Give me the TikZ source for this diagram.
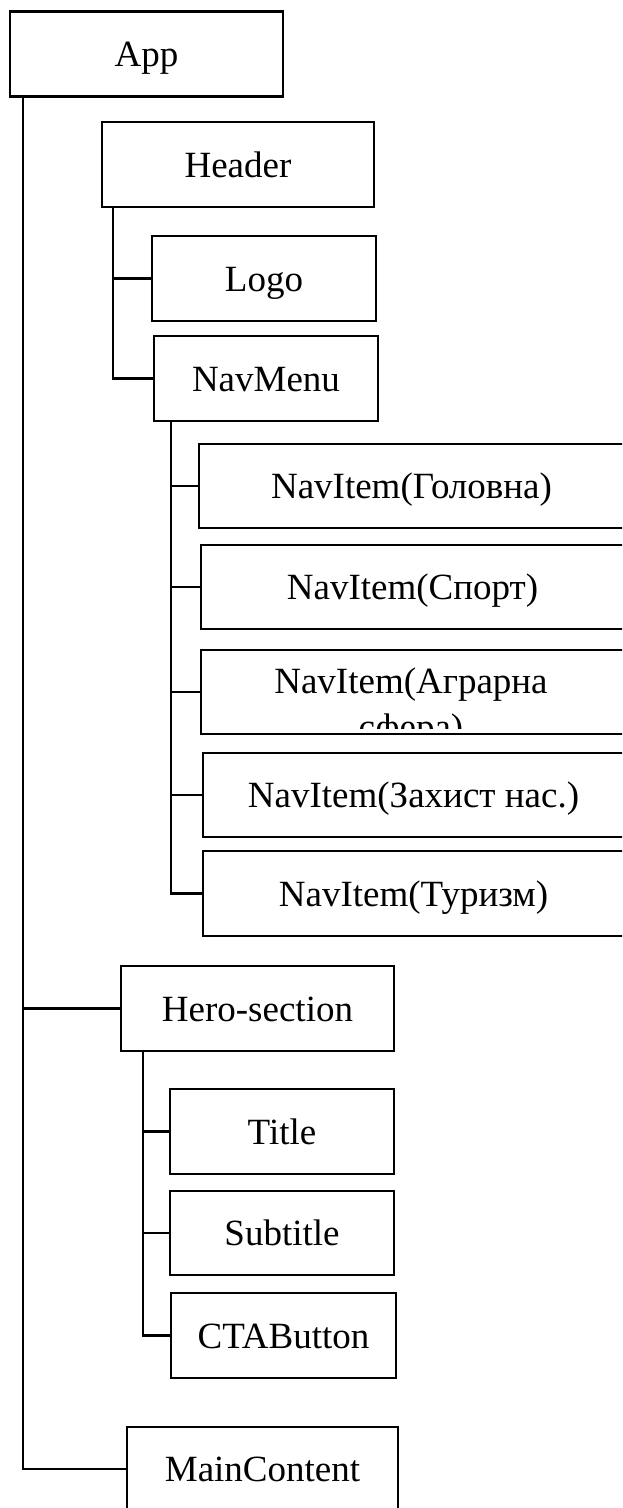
\documentclass[tikz,border=0pt]{standalone}
\usepackage{fontspec}
\setmainfont{Liberation Serif}
\begin{document}
\begin{tikzpicture}[x=1pt,y=-1pt,
  box/.style={draw, line width=2.6pt, rectangle, inner sep=0pt, outer sep=0pt,
    minimum height=85pt, font=\fontsize{37}{44}\selectfont,
    text height=25pt, text depth=0pt},
  conn/.style={line width=2.6pt, line cap=rect}]
\useasboundingbox (0,0) rectangle (622,1508);
\clip (0,0) rectangle (622,1508);
% boxes
\node[box, minimum width=273pt] (app) at (146.5,54) {App};
\node[box, minimum width=272pt] (header) at (238,164.5) {Header};
\node[box, minimum width=224pt] (logo) at (264,278.5) {Logo};
\node[box, minimum width=224pt] (navmenu) at (266,378.5) {NavMenu};
\node[box, minimum width=425pt, minimum height=84pt] (nav1) at (411.5,486) {NavItem(Головна)};
\node[box, minimum width=423pt, minimum height=84pt] (nav2) at (412.5,587) {NavItem(Спорт)};
\node[box, minimum width=423pt, minimum height=84pt] (nav3) at (412.5,692) {};
\begin{scope}
  \clip (202,651) rectangle (624,728);
  \node[anchor=base, inner sep=0pt, font=\fontsize{37}{46}\selectfont] (nav3text) at (411,693)
    {\begin{tabular}[t]{@{}c@{}}NavItem(Аграрна\\сфера)\end{tabular}};
\end{scope}
\node[box, minimum width=421pt, minimum height=84pt] (nav4) at (413.5,795) {NavItem(Захист нас.)};
\node[box, minimum width=421pt] (nav5) at (413.5,893.5) {NavItem(Туризм)};
\node[box, minimum width=273pt] (hero) at (257.5,1008.5) {Hero-section};
\node[box, minimum width=224pt] (title) at (282,1131.5) {Title};
\node[box, minimum width=224pt, minimum height=84pt] (subtitle) at (282,1233) {Subtitle};
\node[box, minimum width=225pt] (cta) at (283.5,1335.5) {CTAButton};
\node[box, minimum width=271pt, minimum height=84pt] (main) at (262.5,1469) {MainContent};
% stems
\coordinate (appstem) at (23,97);
\coordinate (hdrstem) at (113,207);
\coordinate (navstem) at (171,421);
\coordinate (herostem) at (143,1051);
% connectors
\draw[conn] (appstem) |- (hero.west);
\draw[conn] (appstem) |- (main.west);
\draw[conn] (hdrstem) |- (logo.west);
\draw[conn] (hdrstem) |- (navmenu.west);
\draw[conn] (navstem) |- (nav1.west);
\draw[conn] (navstem) |- (nav2.west);
\draw[conn] (navstem) |- (nav3.west);
\draw[conn] (navstem) |- (nav4.west);
\draw[conn] (navstem) |- (nav5.west);
\draw[conn] (herostem) |- (title.west);
\draw[conn] (herostem) |- (subtitle.west);
\draw[conn] (herostem) |- (cta.west);
\end{tikzpicture}
\end{document}
